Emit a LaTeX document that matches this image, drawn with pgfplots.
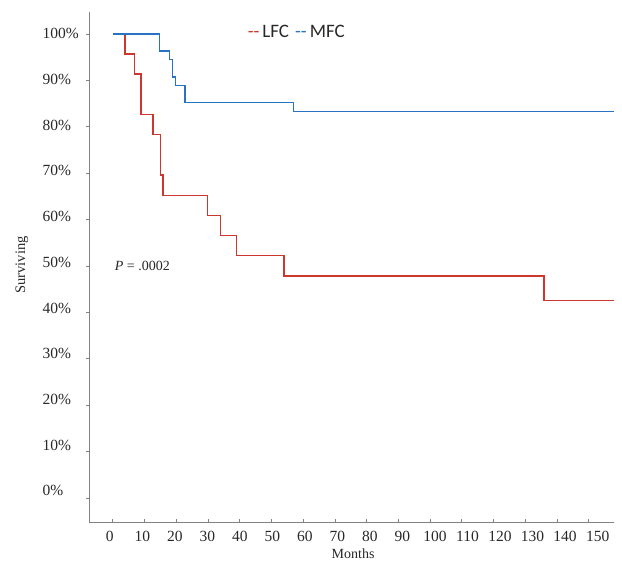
\documentclass[border=0pt]{standalone}
\usepackage{fontspec}
\setmainfont{Liberation Serif}
\newfontfamily\legfont{Carlito}
\usepackage{pgfplots}
\pgfplotsset{compat=1.18}
\definecolor{kmred}{RGB}{205,55,45}
\definecolor{kmblue}{RGB}{40,115,195}
\definecolor{axgray}{RGB}{130,130,130}
\definecolor{txt}{RGB}{40,40,40}
\begin{document}
\begin{tikzpicture}
\begin{axis}[name=ax, scale only axis, width=525pt, height=510pt,
  xmin=-7.5, xmax=158, ymin=-5.2, ymax=104.7,
  axis lines=left,
  axis line style={-, draw=axgray, line width=0.9pt},
  xtick={0,10,...,150}, ytick={0,10,...,100},
  yticklabel={\pgfmathprintnumber{\tick}\%},
  /pgf/number format/assume math mode=true,
  tick style={draw=axgray, line width=0.6pt},
  major tick length=3pt,
  xtick align=inside, ytick align=outside,
  ticklabel style={font=\fontsize{15.5}{17}\selectfont, text=txt},
  yticklabel style={anchor=west, xshift=-47pt, yshift={(10-\ticknum)*0.7pt}},
  xticklabel style={yshift=-6pt, xshift={(-3+0.8*\ticknum)*1pt}},
  xlabel={Months}, ylabel={Surviving},
  xlabel style={at={(axis description cs:0.503,-0.0627)}, anchor=center, font=\fontsize{14}{16}\selectfont, text=txt},
  ylabel style={at={(axis description cs:-0.1276,0.504)}, anchor=center, font=\fontsize{14.5}{16}\selectfont, text=txt},
]
\addplot[const plot, draw=kmred, line width=1.4pt] coordinates {
(0,100) (3.8,95.65) (6.8,91.3) (8.9,82.6) (12.7,78.3) (15.0,69.6) (15.8,65.2)
(29.9,60.9) (33.9,56.5) (39.0,52.2) (54.0,47.8) (135.9,42.5) (158,42.5)};
\addplot[const plot, draw=kmblue, line width=1.4pt] coordinates {
(0,100) (14.8,96.3) (17.9,94.4) (18.8,90.7) (19.8,88.9) (22.7,85.2) (57.0,83.3) (158,83.3)};
\node[anchor=west, inner sep=0pt, text=txt, font=\fontsize{14}{16}\selectfont] at (axis cs:0.6,50) {\textit{P} = .0002};
\node[anchor=west, inner sep=0pt, text=txt, font=\legfont\fontsize{19}{21}\selectfont] at (axis cs:42.5,100.6)
  {\textcolor{kmred}{{-}{-}}\hspace{3pt}LFC\hspace{6pt}\textcolor{kmblue}{{-}{-}}\hspace{3pt}MFC};
\end{axis}
\pgfresetboundingbox
\path ([xshift=-89pt,yshift=-40pt]ax.south west) rectangle ([xshift=8pt,yshift=12pt]ax.north east);
\end{tikzpicture}
\end{document}
